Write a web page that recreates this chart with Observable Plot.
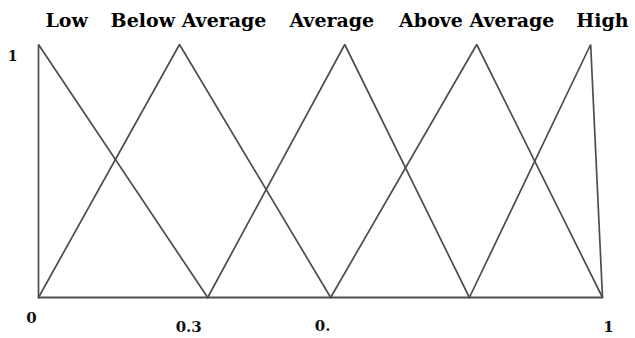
<!DOCTYPE html>
<html>
<head>
<meta charset="utf-8">
<script src="https://cdn.jsdelivr.net/npm/d3@7"></script>
<script src="https://cdn.jsdelivr.net/npm/@observablehq/plot@0.6"></script>
<style>
  html, body { margin: 0; padding: 0; background: #fff; }
  #chart svg { display: block; }
</style>
</head>
<body>
<div id="chart"></div>
<script>
// Fuzzy sets: each one is a triangle (left foot, peak, right foot) on [0, 1]
const sets      = ["Low", "Below Average", "Average", "Above Average", "High"];
const footLeft  = [0,     0,               0.3,       0.518,           0.764];
const peak      = [0,     0.25,            0.543,     0.777,           0.979];
const footRight = [0.3,   0.518,           0.764,     1,               1];

// Axis annotations
const tickValues = [0, 0.3, 0.518, 1];
const tickLabels = ["0", "0.3", "0.", "1"];
const membershipMax = 1;

// Vertices of every triangle as a long table for the line mark
const vertices = sets.flatMap((name, i) => [
  {set: name, x: footLeft[i],  mu: 0},
  {set: name, x: peak[i],      mu: membershipMax},
  {set: name, x: footRight[i], mu: 0}
]);

// Where each set name sits along the axis (centre of the text)
const nameX = [0.05, 0.266, 0.52, 0.777, 1.0];
// Per-label nudges for the axis numbers
const tickDx = [-7, -19, -8, 6];
const tickDy = [21, 30, 29, 30];

const serif = "'DejaVu Serif', serif";
const ink = "#4d4d4d";

const chart = Plot.plot({
  width: 635,
  height: 338,
  marginLeft: 38,
  marginRight: 33,
  marginTop: 44,
  marginBottom: 41,
  x: {domain: [0, 1], axis: null},
  y: {domain: [0, 1], axis: null},
  style: {background: "#fff"},
  marks: [
    Plot.ruleY([0], {stroke: ink, strokeWidth: 2}),
    Plot.line(vertices, {x: "x", y: "mu", z: "set", stroke: ink, strokeWidth: 1.7, strokeLinejoin: "miter"}),
    Plot.text(sets, {
      x: (d, i) => nameX[i], y: membershipMax, text: d => d,
      dy: -24, fontFamily: serif, fontWeight: "bold", fontSize: 19, fill: "#000"
    }),
    ...tickLabels.map((t, i) => Plot.text([t], {
      x: tickValues[i], y: 0, text: d => d,
      dx: tickDx[i], dy: tickDy[i],
      fontFamily: serif, fontWeight: "bold", fontSize: 15, fill: "#111"
    })),
    Plot.text(["1"], {
      x: 0, y: membershipMax, text: d => d, dx: -26, dy: 12,
      fontFamily: serif, fontWeight: "bold", fontSize: 14, fill: "#111"
    })
  ]
});

document.getElementById("chart").appendChild(chart);
</script>
</body>
</html>
